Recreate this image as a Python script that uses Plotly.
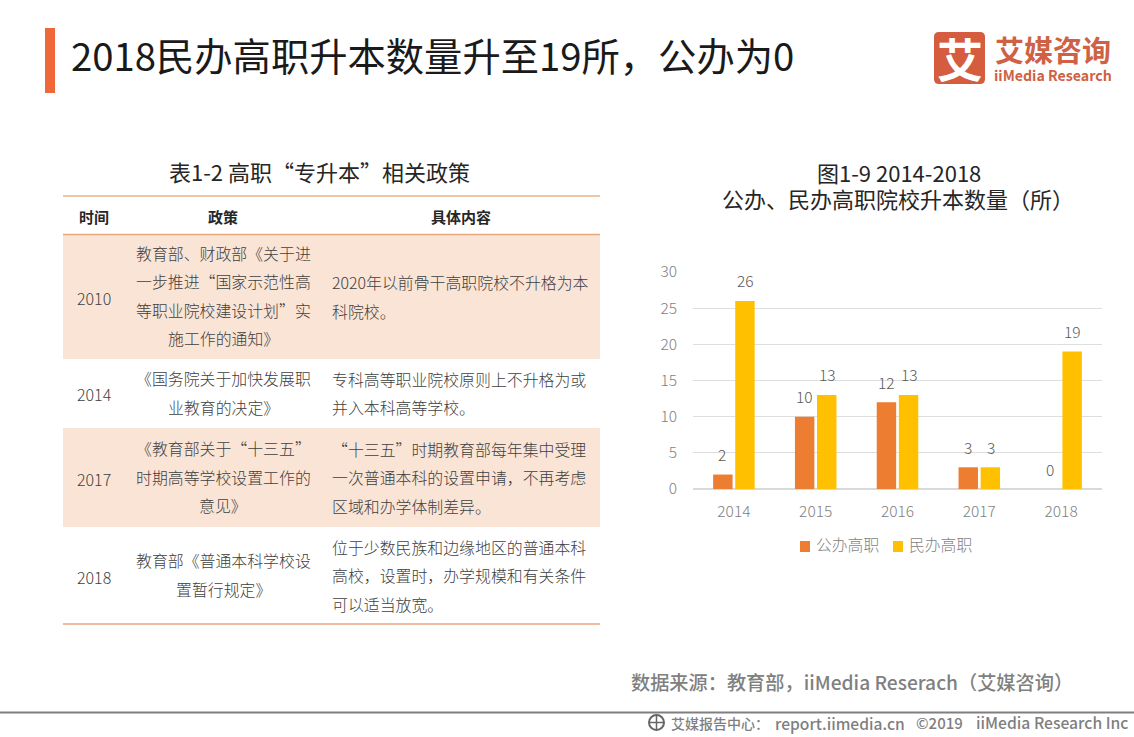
import plotly.graph_objects as go

W, H = 1134, 737
FONT = "Noto Sans CJK SC"

# ---- chart data ----
years = ["2014", "2015", "2016", "2017", "2018"]
public_vals = [2, 10, 12, 3, 0]
private_vals = [26, 13, 13, 3, 19]
series_names = ["公办高职", "民办高职"]
series_colors = ["#ED7D31", "#FFC000"]

# ---- table data ----
table_title = "表1-2 高职“专升本”相关政策"
table_header = ["时间", "政策", "具体内容"]
row_years = ["2010", "2014", "2017", "2018"]
row_policy = [
    ["教育部、财政部《关于进", "一步推进“国家示范性高", "等职业院校建设计划”实", "施工作的通知》"],
    ["《国务院关于加快发展职", "业教育的决定》"],
    ["《教育部关于“十三五”", "时期高等学校设置工作的", "意见》"],
    ["教育部《普通本科学校设", "置暂行规定》"],
]
row_content = [
    ["2020年以前骨干高职院校不升格为本", "科院校。"],
    ["专科高等职业院校原则上不升格为或", "并入本科高等学校。"],
    ["“十三五”时期教育部每年集中受理", "一次普通本科的设置申请，不再考虑", "区域和办学体制差异。"],
    ["位于少数民族和边缘地区的普通本科", "高校，设置时，办学规模和有关条件", "可以适当放宽。"],
]
title_text = "2018民办高职升本数量升至19所，公办为0"
chart_title = ["图1-9 2014-2018", "公办、民办高职院校升本数量（所）"]
source_text = "数据来源：教育部，iiMedia Reserach（艾媒咨询）"
footer_parts = ["艾媒报告中心：", "report.iimedia.cn", "©2019", "iiMedia Research Inc"]


def px(x):
    return x / W


def py(y):
    return 1 - y / H


annotations, shapes = [], []


def text(x, y, s, size, color="#404040", anchor="center", weight=None):
    font = dict(family=FONT, size=size, color=color)
    if weight is not None:
        font["weight"] = weight
    annotations.append(dict(x=px(x), y=py(y), xref="paper", yref="paper", text=s,
                            showarrow=False, xanchor=anchor, yanchor="middle",
                            font=font, borderpad=0))


def rect(x0, y0, x1, y1, fill):
    shapes.append(dict(type="rect", xref="paper", yref="paper", x0=px(x0), x1=px(x1),
                       y0=py(y0), y1=py(y1), fillcolor=fill, line_width=0, layer="below"))


def hline(x0, x1, y, color, width):
    shapes.append(dict(type="line", xref="paper", yref="paper", x0=px(x0), x1=px(x1),
                       y0=py(y), y1=py(y), line=dict(color=color, width=width), layer="below"))


def round_rect(x0, y0, x1, y1, r, fill):
    a, b, c, d = px(x0), px(x1), py(y0), py(y1)
    rx, ry = r / W, r / H
    path = (f"M {a+rx} {c} L {b-rx} {c} Q {b} {c} {b} {c-ry} L {b} {d+ry} Q {b} {d} {b-rx} {d} "
            f"L {a+rx} {d} Q {a} {d} {a} {d+ry} L {a} {c-ry} Q {a} {c} {a+rx} {c} Z")
    shapes.append(dict(type="path", xref="paper", yref="paper", path=path, fillcolor=fill,
                       line_width=0, layer="below"))


# page header
rect(45, 28, 55, 93, "#F0673A")
text(70, 55, title_text, 38.3, "#1a1a1a", "left")

# logo
round_rect(934, 32, 985, 84, 5, "#D55C3F")
text(959.5, 57, "艾", 46, "#ffffff", weight=700)
text(1052.5, 49, "艾媒咨询", 29, "#CF6244", weight=700)
text(1052.5, 74.5, "iiMedia Research", 14.2, "#CF6244", weight=700)

# table
text(319.5, 171, table_title, 22, "#262626")
row_edges = [234, 359, 428, 527, 624]
rect(63, row_edges[0], 600, row_edges[1], "#FAE4D6")
rect(63, row_edges[2], 600, row_edges[3], "#FAE4D6")
hline(63, 600, 196, "#E8B48F", 1.5)
hline(63, 600, 234.5, "#E8A77C", 1.5)
hline(63, 600, 624, "#E8A77C", 1.5)
for cx, s in zip([94, 223, 461], table_header):
    text(cx, 216, s, 15, "#262626", weight=700)

LINE = 28.4
for i in range(4):
    cy = (row_edges[i] + row_edges[i + 1]) / 2
    text(94, cy + 1, row_years[i], 16, "#404040", weight=300)
    n = len(row_policy[i])
    for j, s in enumerate(row_policy[i]):
        text(223, cy - 0.5 + (j - (n - 1) / 2) * LINE, s, 15.9, "#404040", weight=300)

content_tops = [283, 379, 449, 547]
for i in range(4):
    for j, s in enumerate(row_content[i]):
        text(331, content_tops[i] + j * 28.7, s, 15.9, "#404040", "left", 300)

# chart title
text(898.5, 172, chart_title[0], 22, "#262626")
text(897.5, 198, chart_title[1], 22, "#262626")

# source and footer
text(630, 682, source_text, 19.2, "#808080", "left", 500)
hline(0, W, 712.5, "#7F7F7F", 2)
for x, s, size in zip([670, 774, 915, 975], footer_parts, [14, 15.6, 15, 15.7]):
    text(x, 722.5, s, size, "#7F7F7F", "left", 500)
shapes.append(dict(type="circle", xref="paper", yref="paper", x0=px(649), x1=px(664), y0=py(715), y1=py(730),
                   fillcolor="rgba(0,0,0,0)", line=dict(color="#666666", width=2)))
shapes.append(dict(type="line", xref="paper", yref="paper", x0=px(649), x1=px(664), y0=py(722.5), y1=py(722.5),
                   line=dict(color="#666666", width=1.5)))
shapes.append(dict(type="line", xref="paper", yref="paper", x0=px(656.5), x1=px(656.5), y0=py(715), y1=py(730),
                   line=dict(color="#666666", width=1.5)))

# legend, drawn to the reference's compact spacing
for sx, name, color in zip([800, 893], series_names, series_colors):
    rect(sx, 541, sx + 10, 552, color)
    text(sx + 14.5, 544.5, name, 15.8, "#7F7F7F", "left", 300)

# bar value labels, placed in data coordinates
for i, y in enumerate(years):
    for vals, dx in ((public_vals, -11.5), (private_vals, 11.5)):
        annotations.append(dict(x=i, y=vals[i], xref="x", yref="y", text=str(vals[i]), showarrow=False,
                                xshift=dx, yshift=20.5, yanchor="middle", xanchor="center",
                                font=dict(family=FONT, size=15.5, color="#595959", weight=300)))

fig = go.Figure()
fig.add_bar(x=years, y=public_vals, name=series_names[0], marker_color=series_colors[0], marker_line_width=0)
fig.add_bar(x=years, y=private_vals, name=series_names[1], marker_color=series_colors[1], marker_line_width=0)

fig.update_layout(
    width=W, height=H, margin=dict(l=0, r=0, t=0, b=0, autoexpand=False), autosize=False,
    paper_bgcolor="#ffffff", plot_bgcolor="#ffffff",
    barmode="group", bargap=0.46, bargroupgap=0.12,
    font=dict(family=FONT),
    showlegend=False,
    annotations=annotations, shapes=shapes,
    xaxis=dict(domain=[px(693), px(1102)], anchor="y", type="category", showgrid=False, showline=True,
               linecolor="#D9D9D9", linewidth=1, ticks="", ticklabelstandoff=8,
               tickfont=dict(family=FONT, size=15.5, color="#7F7F7F", weight=300)),
    yaxis=dict(domain=[py(489), py(272)], anchor="x", range=[0, 30], dtick=5, showgrid=True,
               gridcolor="#DEDEDE", gridwidth=1, zeroline=True, zerolinecolor="#D9D9D9", showline=False,
               ticks="", ticklabelstandoff=15,
               tickfont=dict(family=FONT, size=15.5, color="#7F7F7F", weight=300)),
)

fig.write_html("out.html", config={"displayModeBar": False},
               post_script="document.body.style.margin='0';document.documentElement.style.overflow='hidden';")
